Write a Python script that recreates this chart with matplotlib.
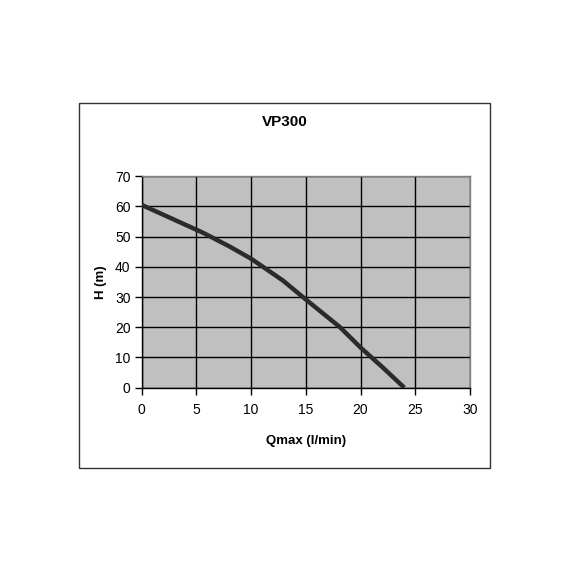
import matplotlib
matplotlib.use("Agg")
import matplotlib.pyplot as plt
from matplotlib.patches import Rectangle

# pump curve VP300
flow = [0, 2.5, 5.6, 8, 10, 12.9, 15, 18.1, 20, 22, 24]
head = [60.5, 56.4, 51.3, 46.8, 42.7, 35.5, 29.2, 20.1, 13.3, 6.8, 0.0]

x_ticks = [0, 5, 10, 15, 20, 25, 30]
y_ticks = [0, 10, 20, 30, 40, 50, 60, 70]

plt.rcParams["font.family"] = ["Liberation Sans", "DejaVu Sans"]

fig = plt.figure(figsize=(5.7, 5.7), dpi=100)
fig.patches.append(Rectangle((79 / 570, 1 - 468 / 570), 411 / 570, 365 / 570,
                             transform=fig.transFigure, fill=False,
                             edgecolor="#333333", linewidth=1.0))

ax = fig.add_axes([141.6 / 570, 1 - 387.7 / 570, 328.4 / 570, 211.5 / 570])
ax.set_facecolor("#c0c0c0")
ax.plot(flow, head, color="#2b2b2b", linewidth=3.2, solid_capstyle="butt", zorder=3)

ax.set_xlim(0, 30)
ax.set_ylim(0, 70)
ax.set_xticks(x_ticks)
ax.set_yticks(y_ticks)
ax.grid(True, color="black", linewidth=1.0)
ax.set_axisbelow(True)

for s in ["top", "right"]:
    ax.spines[s].set_color("#808080")
    ax.spines[s].set_linewidth(1.0)
for s in ["left", "bottom"]:
    ax.spines[s].set_color("black")
    ax.spines[s].set_linewidth(1.0)

ax.tick_params(direction="out", length=5, width=1, labelsize=10)
ax.tick_params(axis="x", pad=6)
ax.tick_params(axis="y", pad=3)

fig.text(284.5 / 570, 1 - 122 / 570, "VP300", fontsize=11, fontweight="bold",
         ha="center", va="center")
ax.set_xlabel("Qmax (l/min)", fontsize=9.5, fontweight="bold", labelpad=13)
ax.set_ylabel("H (m)", fontsize=9.5, fontweight="bold", labelpad=6)

fig.savefig("out.png", dpi=100)
